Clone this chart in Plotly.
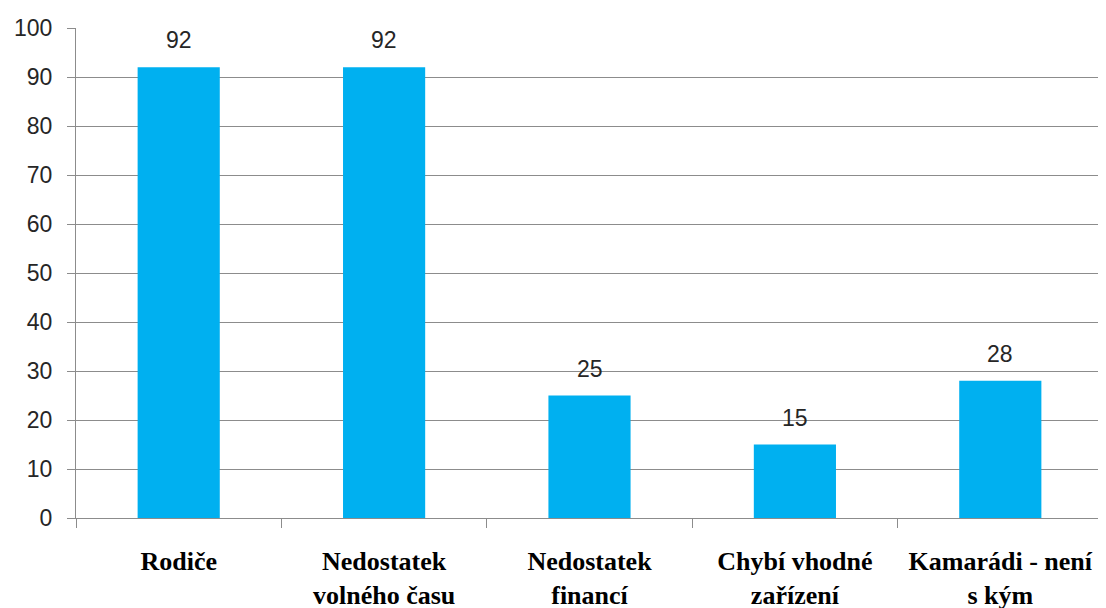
import plotly.graph_objects as go

categories = ["Rodiče", "Nedostatek<br>volného času", "Nedostatek<br>financí",
              "Chybí vhodné<br>zařízení", "Kamarádi - není<br>s kým"]
values = [92, 92, 25, 15, 28]
y_ticks = [0, 10, 20, 30, 40, 50, 60, 70, 80, 90, 100]

fig = go.Figure()
fig.add_trace(go.Bar(
    x=categories, y=values,
    marker=dict(color="#00B0F0", line=dict(width=0)),
    hoverinfo="skip",
))
for c, v in zip(categories, values):
    fig.add_annotation(x=c, y=v, text=str(v), showarrow=False,
                       yanchor="bottom", yshift=12,
                       font=dict(family="Liberation Sans, Arial", size=23, color="#262626"))

fig.update_layout(
    width=1106, height=608,
    margin=dict(l=68, r=11, t=20, b=98),
    paper_bgcolor="white", plot_bgcolor="white",
    bargap=0.6,
    showlegend=False,
)
fig.update_yaxes(
    range=[0, 100], tickvals=y_ticks, automargin=False,
    showgrid=True, gridcolor="#8C8C8C", gridwidth=1,
    showline=True, linecolor="#8C8C8C", linewidth=1,
    ticks="outside", ticklen=8, tickcolor="#8C8C8C",
    tickfont=dict(family="Liberation Sans, Arial", size=23, color="#262626"),
    ticklabelstandoff=10,
    zeroline=False,
)
fig.update_xaxes(
    automargin=False,
    showline=True, linecolor="#8C8C8C", linewidth=1,
    ticks="outside", ticklen=9, tickcolor="#8C8C8C", tickson="boundaries",
    tickfont=dict(family="Liberation Serif, Times New Roman", size=26, color="#000000",
                  weight="bold"),
    ticklabelstandoff=20,
)
fig.write_html("out.html")
